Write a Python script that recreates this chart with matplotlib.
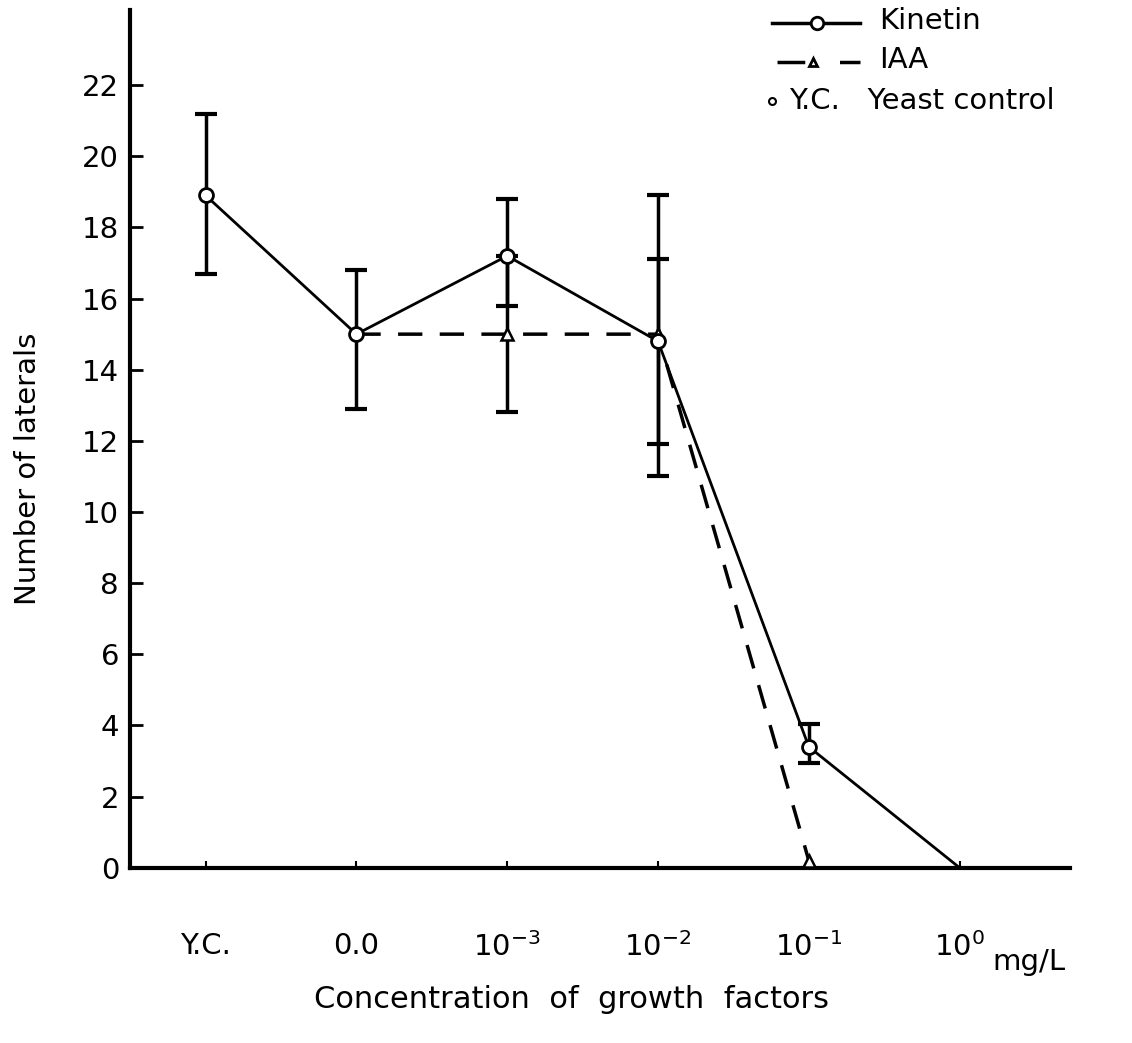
import numpy as np
import matplotlib
matplotlib.use('Agg')
import matplotlib.pyplot as plt
from matplotlib.lines import Line2D

# data
categories = ['Y.C.', '0.0', r'$10^{-3}$', r'$10^{-2}$', r'$10^{-1}$', r'$10^{0}$']
kinetin = [18.9, 15.0, 17.2, 14.8, 3.4, 0.0]
kinetin_err_low = [2.2, 2.1, 1.4, 2.9, 0.45]      # no bar at 10^0
kinetin_err_high = [2.3, 1.8, 1.6, 2.3, 0.65]
iaa = [15.0, 15.0, 15.0, 0.2]          # from 0.0 to 10^-1
iaa_err_low = [2.2, 4.0]               # bars only at 10^-3 and 10^-2
iaa_err_high = [2.2, 3.9]
yticks = [0, 2, 4, 6, 8, 10, 12, 14, 16, 18, 20, 22]

plt.rcParams['font.family'] = ['DejaVu Sans']

fig = plt.figure(figsize=(11.32, 10.43), dpi=100)
ax = fig.add_axes([0.115, 0.168, 0.83, 0.822])

x = np.arange(len(categories))
xi = x[1:5]

# kinetin: solid line, open circles
ax.errorbar(x[:5], kinetin[:5], yerr=[kinetin_err_low, kinetin_err_high], fmt='none',
            ecolor='black', elinewidth=2.5, capsize=8, capthick=3, zorder=2)
ax.plot(x, kinetin, '-', color='black', lw=2)
ax.plot(x[:5], kinetin[:5], 'o', color='black', mfc='white', mew=2, ms=10, zorder=4)

# IAA: dashed line, small triangles
ax.errorbar(xi[1:3], iaa[1:3], yerr=[iaa_err_low, iaa_err_high], fmt='none',
            ecolor='black', elinewidth=2.5, capsize=8, capthick=3, zorder=2)
ax.plot(xi, iaa, '--', color='black', lw=2.5, dashes=(7, 5))
ax.plot(xi[1:], iaa[1:], '^', color='black', mfc='white', mew=1.8, ms=8,
        zorder=3, clip_on=False)

# legend, drawn by hand to follow the original layout
fig.add_artist(Line2D([0.682, 0.760], [0.978, 0.978], transform=fig.transFigure,
                      color='black', lw=2.5))
fig.add_artist(Line2D([0.722], [0.978], transform=fig.transFigure,
                      color='black', marker='o', mfc='white', mew=2, ms=9))
fig.text(0.777, 0.980, 'Kinetin', fontsize=21, va='center')
fig.add_artist(Line2D([0.686, 0.760], [0.941, 0.941], transform=fig.transFigure,
                      color='black', lw=2.5, ls='--', dashes=(8, 10)))
fig.add_artist(Line2D([0.718], [0.941], transform=fig.transFigure, ls='',
                      color='black', marker='^', mfc='white', mew=2, ms=6))
fig.text(0.777, 0.942, 'IAA', fontsize=21, va='center')
fig.add_artist(Line2D([0.682], [0.903], transform=fig.transFigure, ls='',
                      color='black', marker='o', mfc='white', mew=1.5, ms=5))
fig.text(0.697, 0.903, 'Y.C.   Yeast control', fontsize=21, va='center')

ax.set_xlim(-0.5, 5.73)
ax.set_ylim(0, 24.1)
ax.set_yticks(yticks)
ax.set_xticks(x)
ax.set_xticklabels(categories)
ax.tick_params(axis='y', direction='in', length=9, width=2, labelsize=21, pad=8)
ax.tick_params(axis='x', direction='in', length=5, width=1.5, labelsize=21, pad=46)

for s in ['top', 'right']:
    ax.spines[s].set_visible(False)
ax.spines['left'].set_linewidth(3)
ax.spines['bottom'].set_linewidth(3)

ax.set_ylabel('Number of laterals', fontsize=21)
ax.yaxis.set_label_coords(-0.094, 0.465)
ax.set_xlabel('Concentration  of  growth  factors', fontsize=22)
ax.xaxis.set_label_coords(0.47, -0.137)
ax.text(0.957, -0.11, 'mg/L', transform=ax.transAxes, fontsize=21,
        ha='center', va='center')

fig.savefig('out.png', dpi=100)
